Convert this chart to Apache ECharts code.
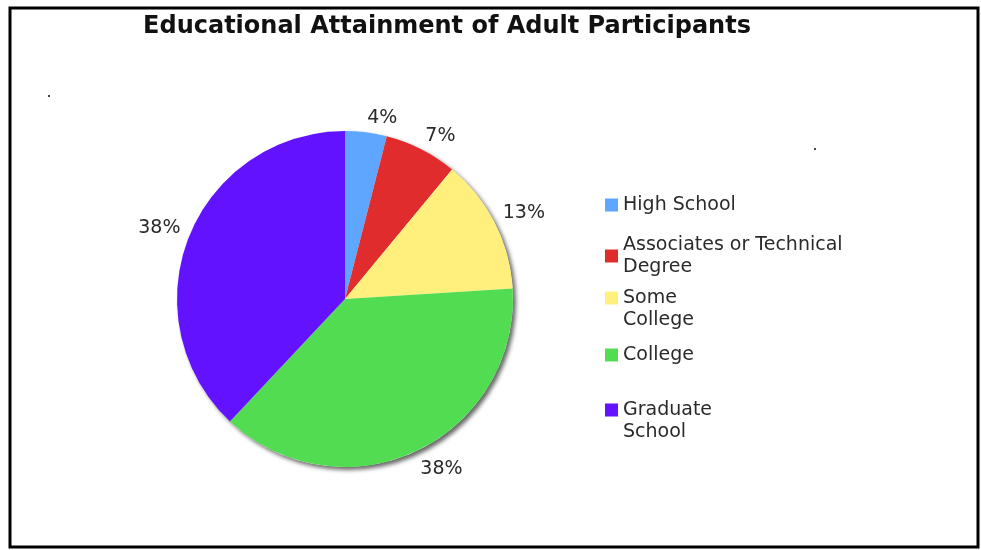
<!DOCTYPE html>
<html>
<head>
<meta charset="utf-8">
<title>Educational Attainment of Adult Participants</title>
<script src="https://cdn.jsdelivr.net/npm/echarts@6/dist/echarts.min.js"></script>
<style>
  html, body { margin: 0; padding: 0; background: #fff; }
  #chart { width: 981px; height: 550px; }
</style>
</head>
<body>
<div id="chart"></div>
<script>
// Education levels and their share of adult participants (percent)
const categories = ['High School', 'Associates or Technical Degree', 'Some College', 'College', 'Graduate School'];
const shares = [4, 7, 13, 38, 38];
// legend wording as wrapped; a leading blank line keeps the swatch level with the first line
const legendLines = ['High School', 'Associates or Technical\nDegree', '\nSome\nCollege', 'College', '\nGraduate\nSchool'];
const sliceColors = ['#5ea6ff', '#e02c2c', '#fff07e', '#52dc52', '#6212ff'];

const chart = echarts.init(document.getElementById('chart'), null, { renderer: 'canvas' });

const CX = 345, CY = 299, R = 168;
const LABEL_DIST = 177;
const FONT = 'DejaVu Sans';

// mid angle of every slice, clockwise from 12 o'clock, in radians
const total = shares.reduce((a, b) => a + b, 0);
const midAngles = [];
let acc = 0;
shares.forEach((v) => {
  midAngles.push(((acc + v / 2) / total) * Math.PI * 2);
  acc += v;
});

const pieData = categories.map((name, i) => ({
  name: name,
  value: shares[i],
  itemStyle: { color: sliceColors[i] }
}));

// one legend block per entry so each can sit at its own height
const legendTops = [194, 234, 265, 344, 377];
const legends = categories.map((name, i) => ({
  data: [name],
  orient: 'vertical',
  left: 605,
  top: legendTops[i],
  itemWidth: 13,
  itemHeight: 13,
  itemGap: 0,
  padding: 0,
  icon: 'rect',
  selectedMode: false,
  formatter: () => legendLines[i],
  textStyle: {
    fontFamily: FONT,
    fontSize: 19,
    color: '#2a2a2a',
    lineHeight: 22
  }
}));

chart.setOption({
  animation: false,
  backgroundColor: '#ffffff',
  title: {
    text: 'Educational Attainment of Adult Participants',
    left: 442,
    top: 10,
    textAlign: 'center',
    textStyle: { fontFamily: FONT, fontWeight: 'bold', fontSize: 24, color: '#111' }
  },
  legend: legends,
  series: [
    {
      // soft drop shadow under the whole pie
      type: 'pie',
      name: 'backdrop',
      silent: true,
      center: [CX, CY],
      radius: [0, R],
      label: { show: false },
      labelLine: { show: false },
      data: [{ name: '', value: 1 }],
      itemStyle: {
        color: '#ffffff',
        shadowColor: 'rgba(0,0,0,0.6)',
        shadowBlur: 4,
        shadowOffsetX: 3,
        shadowOffsetY: 3
      },
      z: 1
    },
    {
      type: 'pie',
      name: 'Attainment',
      silent: true,
      center: [CX, CY],
      radius: [0, R],
      startAngle: 90,
      clockwise: true,
      avoidLabelOverlap: false,
      label: {
        show: true,
        position: 'outside',
        formatter: (p) => p.value + '%',
        fontFamily: FONT,
        fontSize: 19,
        color: '#2a2a2a'
      },
      labelLine: { show: false },
      // the label's nearest corner sits on a point just outside the rim at the slice's mid angle;
      // bottom-anchored labels drop by the font descent so the glyphs touch that point
      labelLayout: (params) => {
        const a = midAngles[params.dataIndex];
        const s = Math.sin(a), c = Math.cos(a);
        return {
          x: CX + LABEL_DIST * s,
          y: CY - LABEL_DIST * c + (c >= 0 ? 4 : 0),
          align: s >= 0 ? 'left' : 'right',
          verticalAlign: c >= 0 ? 'bottom' : 'top'
        };
      },
      itemStyle: { borderWidth: 0 },
      data: pieData,
      z: 2
    }
  ],
  graphic: [
    {
      type: 'rect',
      shape: { x: 10, y: 8, width: 968, height: 539 },
      style: { fill: 'none', stroke: '#000', lineWidth: 3 },
      silent: true
    },
    { type: 'rect', shape: { x: 48, y: 95, width: 2, height: 2 }, style: { fill: '#444' }, silent: true },
    { type: 'rect', shape: { x: 814, y: 148, width: 2, height: 2 }, style: { fill: '#444' }, silent: true }
  ]
});
</script>
</body>
</html>
